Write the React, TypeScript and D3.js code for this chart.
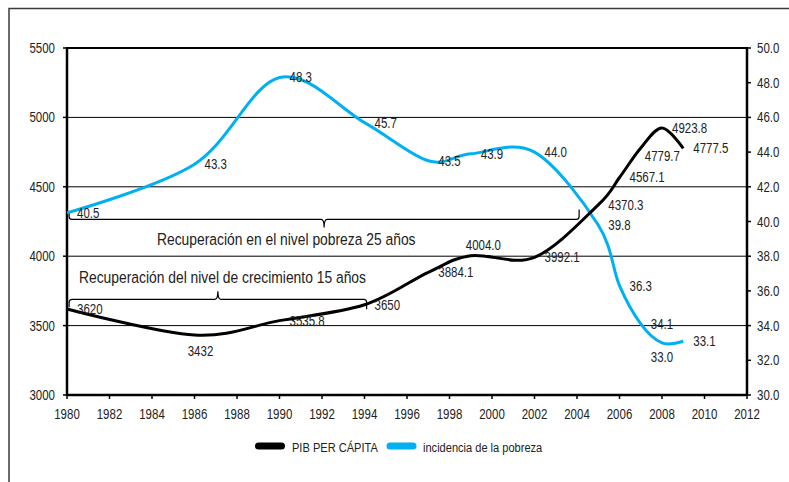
import React from "react";
import * as d3 from "d3";

// ---- data ----
const years = [1980, 1986, 1990, 1994, 1997, 1999, 2002, 2005, 2006, 2007, 2008, 2009];
const pibPerCapita = [3620, 3432, 3535.8, 3650, 3884.1, 4004.0, 3992.1, 4370.3, 4567.1, 4779.7, 4923.8, 4777.5];
const pibLabels = ["3620", "3432", "3535.8", "3650", "3884.1", "4004.0", "3992.1", "4370.3", "4567.1", "4779.7", "4923.8", "4777.5"];
const pobreza = [40.5, 43.3, 48.3, 45.7, 43.5, 43.9, 44.0, 39.8, 36.3, 34.1, 33.0, 33.1];
const pobrezaLabels = ["40.5", "43.3", "48.3", "45.7", "43.5", "43.9", "44.0", "39.8", "36.3", "34.1", "33.0", "33.1"];
const pibLabelPlacement = ["r", "b2", "r", "r", "r", "a", "r", "r", "r", "br", "r", "r"];
const pobrezaLabelPlacement = ["r", "r", "r", "r", "r", "r", "r", "r", "r", "r", "b", "r"];

const xTicks = d3.range(1980, 2013, 2);
const leftTicks = [3000, 3500, 4000, 4500, 5000, 5500];
const rightTicks = [30, 32, 34, 36, 38, 40, 42, 44, 46, 48, 50];

const seriesNames = ["PIB PER CÁPITA", "incidencia de la pobreza"];

// brackets: [startYear, tipYear, endYear, level on left axis]
const bracketPobreza = [1980.1, 1992.1, 2004.1, 4265];
const bracketPobrezaText = "Recuperación en el nivel pobreza 25 años";
const bracketCrec = [1980.1, 1987.1, 1994.1, 3689];
const bracketCrecText = "Recuperación del nivel de crecimiento 15 años";

const W = 789;
const H = 482;
const M = { left: 67, right: 747, top: 48, bottom: 395 };
const FONT = "'Liberation Sans', Arial, sans-serif";
const BLUE = "#00B0F0";
const NARROW = 0.82;

type NTProps = {
  x: number;
  y: number;
  size: number;
  anchor?: string;
  dy?: string;
  fill?: string;
  narrow?: number;
  children: React.ReactNode;
};

// condensed text: regular sans squeezed horizontally, like a narrow face
function NText({ x, y, size, anchor = "start", dy, fill = "#222", narrow = NARROW, children }: NTProps) {
  return (
    <text
      transform={`translate(${x},${y}) scale(${narrow},1)`}
      textAnchor={anchor}
      dy={dy}
      fontSize={size}
      fill={fill}
    >
      {children}
    </text>
  );
}

export default function App() {
  const x = d3.scaleLinear().domain([1980, 2012]).range([M.left, M.right]);
  const yL = d3.scaleLinear().domain([3000, 5500]).range([M.bottom, M.top]);
  const yR = d3.scaleLinear().domain([30, 50]).range([M.bottom, M.top]);

  const curve = d3.curveCardinal.tension(0);
  const pibLine = d3
    .line<number>()
    .x((_, i) => x(years[i]))
    .y((d) => yL(d))
    .curve(curve);
  const pobLine = d3
    .line<number>()
    .x((_, i) => x(years[i]))
    .y((d) => yR(d))
    .curve(curve);

  const labelPos = (px: number, py: number, p: string) => {
    switch (p) {
      case "b":
        return { x: px, y: py + 19, anchor: "middle" };
      case "b2":
        return { x: px + 6, y: py + 21, anchor: "middle" };
      case "a":
        return { x: px - 5, y: py - 6, anchor: "start" };
      case "br":
        return { x: px + 4, y: py + 13, anchor: "start" };
      default:
        return { x: px + 10, y: py + 5, anchor: "start" };
    }
  };

  // brace opening up (tip down) or down (tip up)
  const bracePath = (b: number[], tipDown: boolean) => {
    const x0 = x(b[0]);
    const xt = x(b[1]);
    const x1 = x(b[2]);
    const y = yL(b[3]);
    const s = tipDown ? 1 : -1;
    const e = -s;
    const p = d3.path();
    p.moveTo(x0, y + e * 8);
    p.lineTo(x0, y + e * 3);
    p.quadraticCurveTo(x0, y, x0 + 3, y);
    p.lineTo(xt - 3, y);
    p.quadraticCurveTo(xt, y, xt, y + s * 8);
    p.quadraticCurveTo(xt, y, xt + 3, y);
    p.lineTo(x1 - 3, y);
    p.quadraticCurveTo(x1, y, x1, y + e * 3);
    p.lineTo(x1, y + e * 10);
    return p.toString();
  };

  return (
    <svg
      width={W}
      height={H}
      style={{ position: "absolute", left: 0, top: 0, background: "#fff" }}
      fontFamily={FONT}
    >
      <rect x={0} y={0} width={W} height={H} fill="#fff" />
      {/* outer frame */}
      <rect x={9} y={8.5} width={900} height={600} fill="none" stroke="#3a3a3a" strokeWidth={1.5} />

      {/* gridlines */}
      {leftTicks
        .filter((t) => t > 3000)
        .map((t) => (
          <line
            key={"g" + t}
            x1={M.left}
            x2={M.right}
            y1={yL(t)}
            y2={yL(t)}
            stroke="#000"
            strokeWidth={t === 5500 ? 2 : 1}
          />
        ))}

      {/* axes */}
      <line x1={M.left} x2={M.left} y1={M.top - 1} y2={M.bottom + 1} stroke="#000" strokeWidth={2.5} />
      <line x1={M.right} x2={M.right} y1={M.top - 1} y2={M.bottom + 1} stroke="#000" strokeWidth={2.5} />
      <line x1={M.left} x2={M.right} y1={M.bottom} y2={M.bottom} stroke="#000" strokeWidth={2.5} />

      {leftTicks.map((t) => (
        <g key={"l" + t}>
          <line x1={M.left - 4} x2={M.left} y1={yL(t)} y2={yL(t)} stroke="#000" strokeWidth={1.5} />
          <NText x={55} y={yL(t)} dy="0.36em" anchor="end" size={14}>
            {t}
          </NText>
        </g>
      ))}
      {rightTicks.map((t) => (
        <g key={"r" + t}>
          <line x1={M.right} x2={M.right + 4} y1={yR(t)} y2={yR(t)} stroke="#000" strokeWidth={1.5} />
          <NText x={757} y={yR(t)} dy="0.36em" size={14}>
            {t.toFixed(1)}
          </NText>
        </g>
      ))}
      {xTicks.map((t) => (
        <g key={"x" + t}>
          <line x1={x(t)} x2={x(t)} y1={M.bottom} y2={M.bottom + 4} stroke="#000" strokeWidth={1.5} />
          <NText x={x(t)} y={419} anchor="middle" size={14}>
            {t}
          </NText>
        </g>
      ))}

      {/* brackets */}
      <path d={bracePath(bracketPobreza, true)} fill="none" stroke="#000" strokeWidth={1.2} />
      <NText x={157} y={245} size={16.3} narrow={0.85}>
        {bracketPobrezaText}
      </NText>
      <path d={bracePath(bracketCrec, false)} fill="none" stroke="#000" strokeWidth={1.2} />
      <NText x={79} y={283} size={16.3} narrow={0.85}>
        {bracketCrecText}
      </NText>

      {/* series lines */}
      <path d={pobLine(pobreza) || ""} fill="none" stroke={BLUE} strokeWidth={3} />
      <path d={pibLine(pibPerCapita) || ""} fill="none" stroke="#000" strokeWidth={3} />

      {/* data labels */}
      {pobreza.map((v, i) => {
        const l = labelPos(x(years[i]), yR(v), pobrezaLabelPlacement[i]);
        return (
          <NText key={"pl" + i} x={l.x} y={l.y} anchor={l.anchor} size={14}>
            {pobrezaLabels[i]}
          </NText>
        );
      })}
      {pibPerCapita.map((v, i) => {
        const l = labelPos(x(years[i]), yL(v), pibLabelPlacement[i]);
        return (
          <NText key={"bl" + i} x={l.x} y={l.y} anchor={l.anchor} size={14}>
            {pibLabels[i]}
          </NText>
        );
      })}

      {/* legend */}
      <line x1={258.5} x2={281.5} y1={446} y2={446} stroke="#000" strokeWidth={7} strokeLinecap="round" />
      <NText x={292} y={452} size={13.5}>
        {seriesNames[0]}
      </NText>
      <line x1={390} x2={413} y1={446} y2={446} stroke={BLUE} strokeWidth={7} strokeLinecap="round" />
      <NText x={423} y={452} size={13.5}>
        {seriesNames[1]}
      </NText>
    </svg>
  );
}
